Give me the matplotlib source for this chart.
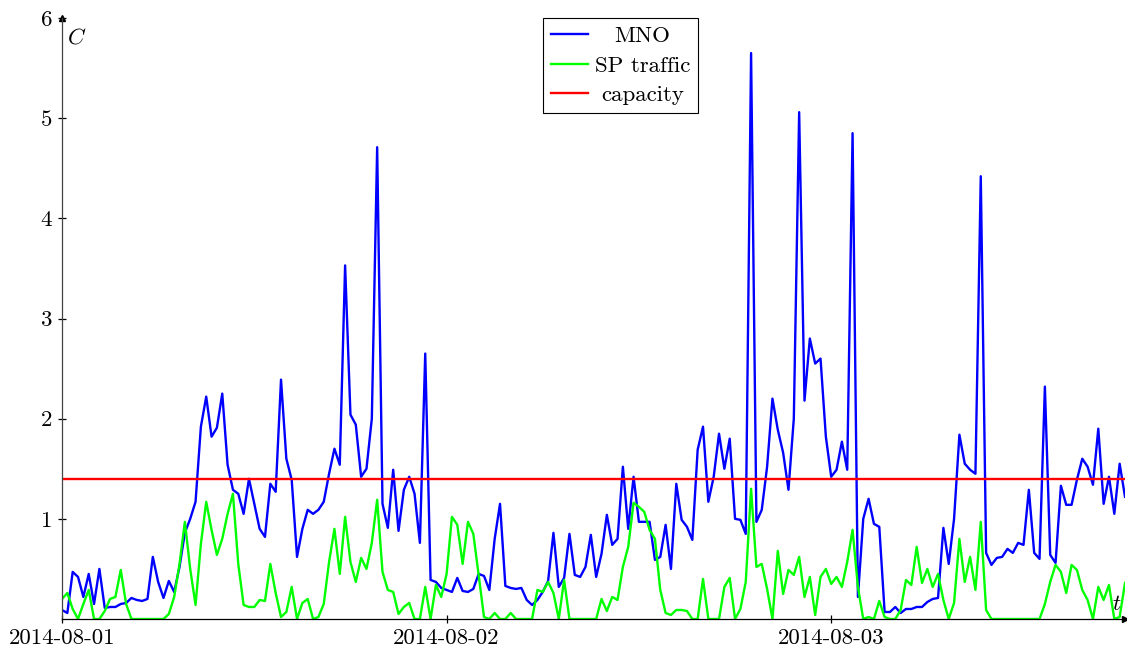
import numpy as np
import pandas as pd
from matplotlib import pyplot as plt

# 20-minute samples starting 2014-08-01
times = pd.date_range("2014-08-01 00:00", periods=200, freq="20min")

mno = [
    0.09, 0.06, 0.47, 0.42, 0.22, 0.45, 0.15, 0.50, 0.11, 0.12,
    0.12, 0.15, 0.16, 0.21, 0.19, 0.18, 0.20, 0.62, 0.37, 0.21,
    0.38, 0.27, 0.52, 0.86, 1.00, 1.17, 1.92, 2.22, 1.82, 1.91,
    2.25, 1.54, 1.29, 1.25, 1.05, 1.40, 1.15, 0.90, 0.82, 1.35,
    1.27, 2.39, 1.60, 1.39, 0.62, 0.90, 1.09, 1.05, 1.09, 1.17,
    1.45, 1.70, 1.54, 3.53, 2.04, 1.94, 1.42, 1.50, 2.00, 4.71,
    1.15, 0.91, 1.49, 0.88, 1.29, 1.42, 1.25, 0.76, 2.65, 0.39,
    0.37, 0.31, 0.29, 0.27, 0.41, 0.28, 0.27, 0.30, 0.45, 0.43,
    0.29, 0.80, 1.15, 0.33, 0.31, 0.30, 0.31, 0.19, 0.14, 0.19,
    0.27, 0.38, 0.86, 0.32, 0.41, 0.85, 0.44, 0.42, 0.52, 0.84,
    0.42, 0.65, 1.04, 0.74, 0.80, 1.52, 0.90, 1.42, 0.97, 0.97,
    0.97, 0.59, 0.62, 0.94, 0.50, 1.35, 0.99, 0.92, 0.79, 1.69,
    1.92, 1.17, 1.42, 1.85, 1.50, 1.80, 1.00, 0.99, 0.85, 5.65,
    0.97, 1.09, 1.52, 2.20, 1.89, 1.66, 1.29, 2.00, 5.06, 2.18,
    2.80, 2.55, 2.60, 1.82, 1.42, 1.49, 1.77, 1.49, 4.85, 0.22,
    1.00, 1.20, 0.95, 0.92, 0.07, 0.07, 0.12, 0.06, 0.10, 0.10,
    0.12, 0.12, 0.17, 0.20, 0.21, 0.91, 0.55, 1.00, 1.84, 1.55,
    1.49, 1.45, 4.42, 0.66, 0.54, 0.61, 0.62, 0.70, 0.66, 0.76,
    0.74, 1.29, 0.66, 0.60, 2.32, 0.64, 0.56, 1.33, 1.14, 1.14,
    1.39, 1.60, 1.52, 1.34, 1.90, 1.15, 1.42, 1.05, 1.55, 1.22,
]

sp_traffic = [
    0.20, 0.26, 0.10, 0.00, 0.15, 0.29, 0.00, 0.00, 0.08, 0.20,
    0.22, 0.49, 0.15, 0.00, 0.00, 0.00, 0.00, 0.00, 0.00, 0.00,
    0.05, 0.22, 0.55, 0.97, 0.50, 0.14, 0.75, 1.17, 0.89, 0.64,
    0.80, 1.05, 1.25, 0.55, 0.14, 0.12, 0.12, 0.19, 0.18, 0.55,
    0.26, 0.02, 0.07, 0.32, 0.00, 0.16, 0.20, 0.00, 0.02, 0.15,
    0.57, 0.90, 0.45, 1.02, 0.57, 0.37, 0.61, 0.50, 0.76, 1.19,
    0.47, 0.29, 0.27, 0.05, 0.12, 0.16, 0.00, 0.00, 0.32, 0.00,
    0.34, 0.22, 0.45, 1.02, 0.94, 0.55, 0.97, 0.85, 0.44, 0.02,
    0.00, 0.06, 0.00, 0.00, 0.06, 0.00, 0.00, 0.00, 0.00, 0.29,
    0.27, 0.37, 0.26, 0.00, 0.39, 0.00, 0.00, 0.00, 0.00, 0.00,
    0.00, 0.20, 0.08, 0.22, 0.19, 0.52, 0.72, 1.16, 1.12, 1.07,
    0.89, 0.80, 0.29, 0.06, 0.04, 0.09, 0.09, 0.08, 0.00, 0.00,
    0.40, 0.00, 0.00, 0.00, 0.32, 0.41, 0.00, 0.10, 0.37, 1.30,
    0.52, 0.55, 0.30, 0.00, 0.68, 0.25, 0.49, 0.44, 0.62, 0.22,
    0.42, 0.04, 0.42, 0.50, 0.35, 0.42, 0.32, 0.57, 0.89, 0.32,
    0.00, 0.02, 0.00, 0.18, 0.02, 0.00, 0.00, 0.09, 0.39, 0.34,
    0.72, 0.36, 0.50, 0.32, 0.45, 0.19, 0.00, 0.16, 0.80, 0.37,
    0.62, 0.29, 0.97, 0.09, 0.00, 0.00, 0.00, 0.00, 0.00, 0.00,
    0.00, 0.00, 0.00, 0.00, 0.15, 0.37, 0.54, 0.47, 0.26, 0.54,
    0.49, 0.29, 0.19, 0.00, 0.32, 0.19, 0.34, 0.00, 0.02, 0.36,
]

capacity = 1.4

day_ticks = pd.to_datetime(["2014-08-01", "2014-08-02", "2014-08-03"])
y_ticks = [1, 2, 3, 4, 5, 6]


def main():
    plt.rcParams["font.family"] = "cmr10"
    plt.rcParams["mathtext.fontset"] = "cm"
    plt.rcParams["axes.formatter.use_mathtext"] = True

    fig = plt.figure(figsize=(11.27, 6.53), dpi=100)
    ax = fig.add_axes([62 / 1127, 34 / 653, 1063 / 1127, 601 / 653])

    ax.plot(times, mno, color="#0000ff", lw=1.7, label="MNO")
    ax.plot(times, sp_traffic, color="#00ff00", lw=1.7, label="SP traffic")
    ax.axhline(capacity, color="#ff0000", lw=1.7, label="capacity")

    ax.set_xlim(times[0], times[-1])
    ax.set_ylim(0, 6)

    ax.spines["top"].set_visible(False)
    ax.spines["right"].set_visible(False)
    ax.spines["left"].set_linewidth(0.9)
    ax.spines["left"].set_color("#444444")
    ax.spines["bottom"].set_linewidth(0.9)
    ax.spines["bottom"].set_color("black")

    # arrow tips on the axes
    ax.plot(1, 0, ">k", transform=ax.transAxes, clip_on=False, ms=4)
    ax.plot(0, 1, "^k", transform=ax.transAxes, clip_on=False, ms=4)

    ax.set_xticks(day_ticks)
    ax.set_xticklabels([d.strftime("%Y-%m-%d") for d in day_ticks])
    ax.set_yticks(y_ticks)
    ax.set_yticklabels([str(v) for v in y_ticks])
    ax.tick_params(direction="inout", length=6, width=0.9, labelsize=16.5, pad=4)

    ax.text(0.005, 0.985, "$C$", transform=ax.transAxes, ha="left", va="top", fontsize=16.5)
    ax.text(0.992, 0.024, "$t$", transform=ax.transAxes, ha="center", va="center", fontsize=16.5)

    leg = ax.legend(loc="upper left", bbox_to_anchor=(0.4525, 1.0), fontsize=16.5,
                    frameon=True, fancybox=False, framealpha=1, edgecolor="black",
                    handlelength=1.6, handletextpad=0.3, labelspacing=0.42,
                    borderpad=0.35, borderaxespad=0)
    leg.get_frame().set_linewidth(0.8)

    # center the legend texts like pgfplots does
    fig.canvas.draw()
    r = fig.canvas.get_renderer()
    texts = leg.get_texts()
    widths = [t.get_window_extent(r).width for t in texts]
    w = max(widths)
    for t, wi in zip(texts, widths):
        t.set_position(((w - wi) / 2, 0))

    fig.savefig("out.png", dpi=100)


if __name__ == "__main__":
    main()
